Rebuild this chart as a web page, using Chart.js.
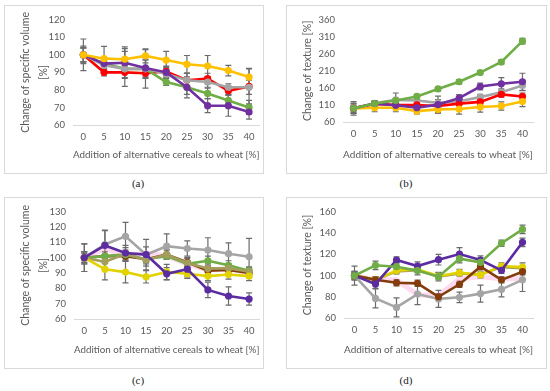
<!DOCTYPE html>
<html>
<head>
<meta charset="utf-8">
<script src="https://cdn.jsdelivr.net/npm/chart.js@4"></script>
<style>
  body { margin: 0; background: #fff; width: 550px; height: 391px; position: relative; overflow: hidden; }
  .box { position: absolute; border: 1px solid #D9D9D9; box-sizing: border-box; }
  .box canvas { display: block; }
  .lbl { position: absolute; font-family: "Liberation Serif", serif; font-size: 11px; color: #222; width: 40px; text-align: center; }
</style>
</head>
<body>
<div class="box" id="boxA" style="left:4px;top:5px;width:260px;height:169px"><canvas id="chartA"></canvas></div>
<div class="box" id="boxB" style="left:286px;top:5px;width:261px;height:169px"><canvas id="chartB"></canvas></div>
<div class="box" id="boxC" style="left:4px;top:197px;width:260px;height:172px"><canvas id="chartC"></canvas></div>
<div class="box" id="boxD" style="left:286px;top:197px;width:261px;height:172px"><canvas id="chartD"></canvas></div>
<div class="lbl" style="left:118px;top:177px">(a)</div>
<div class="lbl" style="left:386px;top:177px">(b)</div>
<div class="lbl" style="left:118px;top:374px">(c)</div>
<div class="lbl" style="left:386px;top:374px">(d)</div>
<script>
const additions = ['0', '5', '10', '15', '20', '25', '30', '35', '40'];
const xTitle = 'Addition of alternative cereals to wheat [%]';

// (a) specific volume
const aOrange = [100, 97.8, 97.5, 99.4, 97, 94.6, 93.6, 91, 87.3];
const aRed    = [100, 90, 90, 89.5, 90.5, 85.5, 86.5, 79.5, 82];
const aGray   = [100, 94, 92, 92, 89, 85.5, 84.5, 81.5, 81.5];
const aPurple = [100, 95, 95.5, 92.5, 90, 81.5, 71, 71, 67.4];
const aGreen  = [100, 95, 92, 92, 84.5, 81.5, 78, 74, 70];
const aOrangeErr = [4, 7, 6, 4, 5, 5, 6, 3, 5];
const aRedErr    = [4, 2, 3, 3, 3, 4, 3, 2, 10];
const aGrayErr   = [5, 3, 2, 5, 4, 4, 3, 2, 4];
const aPurpleErr = [9, 3, 9, 5, 3, 6, 4, 6, 4];
const aGreenErr  = [4, 3, 10, 11, 2, 4, 3, 3, 4];

// (b) texture
const bGreen  = [100, 114, 123, 135, 157, 178, 205, 236, 297];
const bPurple = [100, 114, 109, 102, 111, 130, 164, 172, 178];
const bGray   = [100, 115, 125, 123, 116, 121, 133, 147, 167];
const bRed    = [100, 113, 110, 110, 107, 114, 119, 141, 135];
const bOrange = [100, 102, 102, 92, 97, 98, 104, 107, 120];
const bGreenErr  = [8, 6, 6, 6, 6, 6, 6, 6, 8];
const bPurpleErr = [20, 8, 8, 6, 25, 10, 10, 18, 25];
const bGrayErr   = [15, 6, 20, 15, 10, 8, 8, 10, 15];
const bRedErr    = [15, 5, 6, 5, 8, 6, 8, 8, 10];
const bOrangeErr = [12, 12, 12, 8, 10, 15, 15, 12, 15];

// (c) specific volume
const cGray   = [100, 108.6, 114, 102, 107.5, 106, 105, 102.6, 100.6];
const cPurple = [100, 108, 103, 102, 89.5, 92.5, 79, 75, 73];
const cBrown  = [100, 101, 101, 99, 102, 97, 91.5, 92, 90];
const cGreen  = [100, 101, 102, 99, 101, 96, 98, 95, 91.5];
const cKhaki  = [100, 97.3, 102.6, 98.5, 102, 96.5, 93, 93, 91];
const cYellow = [100, 92.5, 90.6, 87.5, 90.7, 89.5, 88, 89, 88];
const cPink   = [100, 106, 101, 103, 101, 96, 92, 93, 90];
const cGrayErr   = [9, 9, 9, 10, 8, 5, 8, 7, 12];
const cPurpleErr = [4, 10, 5, 5, 4, 5, 5, 6, 4];
const cBrownErr  = [3, 3, 3, 3, 3, 3, 3, 3, 3];
const cGreenErr  = [3, 3, 2, 2, 2, 2, 3, 3, 2];
const cKhakiErr  = [4, 4, 4, 4, 3, 3, 3, 3, 3];
const cYellowErr = [9, 7, 7, 4, 5, 3, 3, 3, 3];

// (d) texture
const dGreen  = [100, 109.7, 108.4, 104.7, 99, 116, 112.5, 130.5, 143.6];
const dPurple = [100, 92, 114.7, 109, 115, 120.4, 114.7, 105, 131.4];
const dYellow = [100, 96, 104.7, 106, 99.6, 102.8, 100.6, 109, 108];
const dKhaki  = [100, 96, 104, 105, 99, 102, 101, 108, 107];
const dBrown  = [100, 96, 93.3, 92.7, 80, 91.8, 108.4, 96, 103.7];
const dGray   = [100, 78.5, 70, 82.6, 78, 79.5, 83, 87, 96];
const dPink   = [100, 96, 96, 82, 81, 97, 99, 97, 97];
const dGreenErr  = [4, 4, 4, 4, 4, 4, 4, 3, 4];
const dPurpleErr = [4, 4, 3, 4, 5, 6, 4, 3, 4];
const dYellowErr = [3, 3, 3, 3, 3, 3, 3, 3, 4];
const dBrownErr  = [3, 3, 3, 3, 3, 3, 3, 3, 3];
const dGrayErr   = [9, 9, 9, 10, 8, 5, 8, 7, 11];

const FONT = 'Lato, "Liberation Sans", sans-serif';

// error bars drawn through the y scale
const errorBars = {
  id: 'errorBars',
  beforeDatasetsDraw(chart) {
    const ctx = chart.ctx, ys = chart.scales.y;
    ctx.save();
    ctx.strokeStyle = '#6b6b6b';
    ctx.lineWidth = 1.2;
    chart.data.datasets.forEach((ds, i) => {
      if (!ds.errors) return;
      chart.getDatasetMeta(i).data.forEach((pt, j) => {
        const e = ds.errors[j];
        if (!e) return;
        const t = ys.getPixelForValue(ds.data[j] + e);
        const b = ys.getPixelForValue(ds.data[j] - e);
        ctx.beginPath();
        ctx.moveTo(pt.x, t); ctx.lineTo(pt.x, b);
        ctx.moveTo(pt.x - 3, t); ctx.lineTo(pt.x + 3, t);
        ctx.moveTo(pt.x - 3, b); ctx.lineTo(pt.x + 3, b);
        ctx.stroke();
      });
    });
    ctx.restore();
  }
};

function series(data, color, errors, extra) {
  return Object.assign({
    data: data,
    errors: errors,
    borderColor: color,
    backgroundColor: color,
    borderWidth: 2.6,
    pointRadius: 3.6,
    pointHoverRadius: 3.6,
    pointBorderWidth: 0,
    tension: 0
  }, extra || {});
}

// box = inner rect of the bordered div, plot = wanted plot area (page coords)
function makeChart(id, box, plot, yMin, yMax, yStep, yTitle, datasets) {
  const canvas = document.getElementById(id);
  canvas.width = box.w; canvas.height = box.h;
  canvas.style.width = box.w + 'px'; canvas.style.height = box.h + 'px';
  const yWidth = plot.l - box.x;
  const xHeight = box.y + box.h - plot.b;
  new Chart(canvas, {
    type: 'line',
    data: { labels: additions, datasets: datasets },
    options: {
      responsive: false,
      animation: false,
      events: [],
      layout: { padding: { left: 0, top: plot.t - box.y, right: box.x + box.w - plot.r, bottom: 0 } },
      plugins: { legend: { display: false }, tooltip: { enabled: false } },
      scales: {
        x: {
          offset: true,
          grid: { display: false, drawTicks: false },
          border: { display: true, color: '#D9D9D9', width: 1 },
          ticks: { color: '#595959', font: { family: FONT, size: 9.5 }, padding: 6, maxRotation: 0, autoSkip: false },
          title: { display: true, text: xTitle, color: '#595959', font: { family: FONT, size: 10 }, padding: { top: 0, bottom: 12 } },
          afterFit(s) { s.height = xHeight; }
        },
        y: {
          min: yMin, max: yMax,
          grid: { display: false, drawTicks: false },
          border: { display: false },
          ticks: { stepSize: yStep, color: '#595959', font: { family: FONT, size: 9.5 }, padding: 8 },
          title: { display: true, text: yTitle, color: '#595959', font: { family: FONT, size: 10.5, lineHeight: 1.7 }, padding: { top: 12, bottom: 0 } },
          afterFit(s) { s.width = yWidth; }
        }
      }
    },
    plugins: [errorBars]
  });
}

const RED = '#FF0000', PURPLE = '#7030A0', GREEN = '#70AD47', GRAY = '#A5A5A5', ORANGE = '#FFC000';
const VIOLET = '#5B2CA0', BROWN = '#843C0C', YELLOW = '#E2D200', KHAKI = '#A39E5C', PINK = 'rgba(255,170,220,0.45)';

makeChart('chartA', { x: 5, y: 6, w: 258, h: 167 }, { l: 73, r: 263, t: 17, b: 125 }, 60, 120, 10,
  ['Change of specific volume', '[%]'], [
    series(aOrange, ORANGE, aOrangeErr),
    series(aPurple, PURPLE, aPurpleErr),
    series(aGray, GRAY, aGrayErr),
    series(aGreen, GREEN, aGreenErr),
    series(aRed, RED, aRedErr)
  ]);

makeChart('chartB', { x: 287, y: 6, w: 259, h: 167 }, { l: 343, r: 533, t: 18, b: 122 }, 60, 360, 50,
  'Change of texture [%]', [
    series(bGreen, GREEN, bGreenErr),
    series(bPurple, PURPLE, bPurpleErr),
    series(bOrange, ORANGE, bOrangeErr),
    series(bRed, RED, bRedErr),
    series(bGray, GRAY, bGrayErr)
  ]);

makeChart('chartC', { x: 5, y: 198, w: 258, h: 170 }, { l: 74, r: 263, t: 211, b: 319 }, 60, 130, 10,
  ['Change of specific volume', '[%]'], [
    series(cPurple, VIOLET, cPurpleErr),
    series(cYellow, YELLOW, cYellowErr),
    series(cGray, GRAY, cGrayErr),
    series(cKhaki, KHAKI, cKhakiErr),
    series(cGreen, GREEN, cGreenErr),
    series(cBrown, BROWN, cBrownErr),
    series(cPink, PINK, null, { borderWidth: 5, pointRadius: 0 })
  ]);

makeChart('chartD', { x: 287, y: 198, w: 259, h: 170 }, { l: 344, r: 533, t: 212, b: 318 }, 60, 160, 20,
  'Change of texture [%]', [
    series(dGreen, GREEN, dGreenErr),
    series(dPurple, VIOLET, dPurpleErr),
    series(dBrown, BROWN, dBrownErr),
    series(dYellow, YELLOW, dYellowErr),
    series(dKhaki, KHAKI, null),
    series(dGray, GRAY, dGrayErr),
    series(dPink, PINK, null, { borderWidth: 5, pointRadius: 0 })
  ]);
</script>
</body>
</html>
